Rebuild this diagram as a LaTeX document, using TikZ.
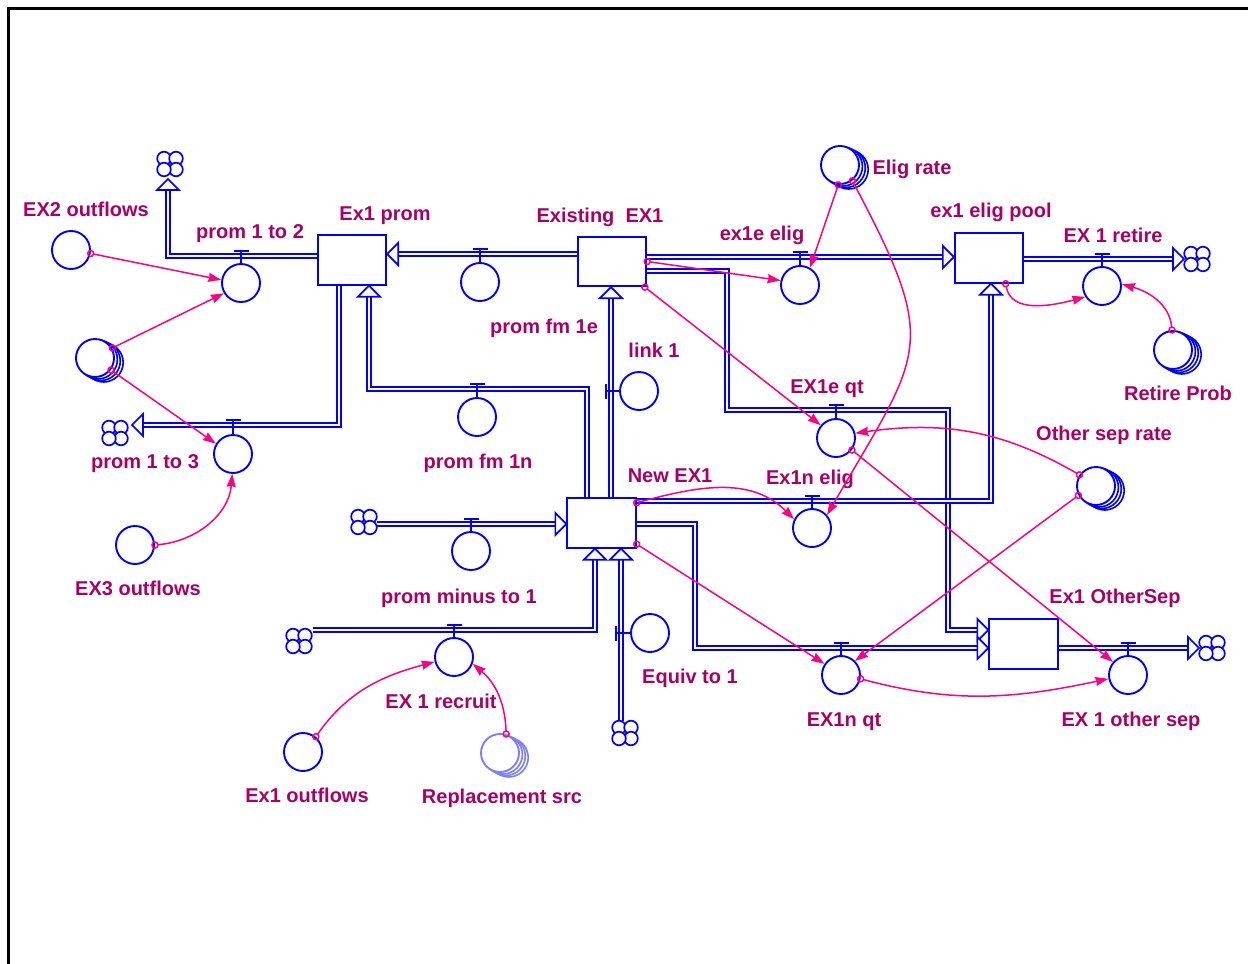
\documentclass[tikz,border=0pt]{standalone}
\usepackage{fontspec}
\setmainfont{Liberation Sans}
\usetikzlibrary{arrows.meta,calc}
\definecolor{vblue}{RGB}{0,0,255}
\definecolor{vlight}{RGB}{125,125,255}
\definecolor{vlabel}{RGB}{168,0,100}
\definecolor{vpink}{RGB}{255,0,128}
\tikzset{
  stock/.style={draw=vblue, line width=1.8pt, fill=white, rectangle, minimum width=68.5pt, minimum height=49.5pt, inner sep=0pt},
  flowc/.style={draw=vblue, line width=1.9pt, fill=white, circle, minimum size=38pt, inner sep=0pt},
  auxc/.style={draw=vblue, line width=1.9pt, fill=white, circle, minimum size=38pt, inner sep=0pt},
  pipe/.style={draw=vblue, line width=1.7pt, double=white, double distance=2pt},
  valveline/.style={draw=vblue, line width=1.8pt},
  conn/.style={draw=vpink, line width=1.5pt, arrows={Circle[open,length=7.5pt,width=7.5pt]-Stealth[length=13pt,width=9pt,inset=1pt]}, shorten <=-3.7pt},
  lbl/.style={text=vlabel, font=\bfseries\fontsize{20}{24}\selectfont, anchor=base, inner sep=0pt},
  tipU/.pic={\draw[vblue, line width=1.7pt, fill=white, line join=miter] (0,0) -- (-11,11) -- (11,11) -- cycle;},
  tipL/.pic={\draw[vblue, line width=1.7pt, fill=white, line join=miter] (0,0) -- (11,-11) -- (11,11) -- cycle;},
  tipR/.pic={\draw[vblue, line width=1.7pt, fill=white, line join=miter] (0,0) -- (-11,-11) -- (-11,11) -- cycle;},
  cloudp/.pic={\foreach \a/\b in {-6/-5.5, 6/-5.5, 6/5.5, -6/5.5}{\draw[vblue, line width=1.7pt, fill=white] (\a,\b) circle[radius=6.8];}},
}
\newcommand\stackaux[3]{%
  \foreach \k in {3,2,1}{\draw[draw=#3, line width=1.6pt, fill=white] ($(#2)+(2.9*\k,1.5*\k)$) circle[radius=19.5];}
  \node[auxc, draw=#3] (#1) at (#2) {};
}
\newcommand\valvetop[2]{\draw[valveline] (#1.north) -- (#1.north |- 0,#2) ++(-7.5,0) -- ++(15,0);}
\newcommand\valveleft[2]{\draw[valveline] (#1.west) -- (#1.west -| #2,0) ++(0,-7.5) -- ++(0,15);}
\begin{document}
\begin{tikzpicture}[x=1pt,y=-1pt]
\useasboundingbox (0,0) rectangle (1248,964);
\draw[line width=3pt] (8,964) -- (8,8.5) -- (1248,8.5);

% stocks
\node[stock] (ex1prom) at (352,260) {};
\node[stock] (existing) at (612,261.5) {};
\node[stock] (eligpool) at (989,258) {};
\node[stock] (newex1) at (601.5,523) {};
\node[stock] (othersep) at (1023.5,644) {};

% clouds
\coordinate (cl12) at (170,164);
\coordinate (cl13) at (115,433);
\coordinate (clret) at (1197,259);
\coordinate (clos) at (1212,648);
\coordinate (clpm) at (364,522);
\coordinate (clrec) at (299,641);
\coordinate (cleq) at (625,733);

% arrow tips of pipes
\coordinate (t12) at (168,179);
\coordinate (t2) at (ex1prom.east |- 0,254);
\coordinate (t3) at (ex1prom.south -| 369,0);
\coordinate (t13) at (132,425);
\coordinate (t5) at (existing.south -| 611,0);
\coordinate (t6) at (eligpool.west |- 0,257);
\coordinate (t7) at (othersep.west |- 0,630);
\coordinate (t8) at (1184,259);
\coordinate (t9) at (eligpool.south -| 991,0);
\coordinate (t10) at (othersep.west |- 0,648);
\coordinate (t11) at (1199,648);
\coordinate (tpm) at (newex1.west |- 0,524);
\coordinate (trec) at (newex1.south -| 595,0);
\coordinate (teq) at (newex1.south -| 621,0);

% pipes
\draw[pipe] (ex1prom.west |- 0,256) -| ($(t12)+(0,10)$);
\draw[pipe] (existing.west |- 0,254) -- ($(t2)+(10,0)$);
\draw[pipe] (newex1.north -| 587,0) |- (t3 |- 0,389) -- ($(t3)+(0,10)$);
\draw[pipe] (ex1prom.south -| 339,0) |- ($(t13)+(10,0)$);
\draw[pipe] (newex1.north -| 611,0) -- ($(t5)+(0,10)$);
\draw[pipe] (existing.east |- 0,257) -- ($(t6)+(-10,0)$);
\draw[pipe] (existing.east |- 0,271) -| (727,410) -| (948,630) -- ($(t7)+(-10,0)$);
\draw[pipe] (eligpool.east |- 0,259) -- ($(t8)+(-10,0)$);
\draw[pipe] (newex1.east |- 0,501) -| ($(t9)+(0,10)$);
\draw[pipe] (newex1.east |- 0,524) -| (695,648) -- ($(t10)+(-10,0)$);
\draw[pipe] (othersep.east |- 0,648) -- ($(t11)+(-10,0)$);
\draw[pipe] ($(clpm)+(13,2)$) -- ($(tpm)+(-10,0)$);
\draw[pipe] ($(clrec)+(14,-11)$) -| ($(trec)+(0,10)$);
\draw[pipe] ($(cleq)+(-4,-12)$) -- ($(teq)+(0,10)$);

\pic at (t12) {tipU};
\pic at (t2) {tipL};
\pic at (t3) {tipU};
\pic at (t13) {tipL};
\pic at (t5) {tipU};
\pic at (t6) {tipR};
\pic at (t7) {tipR};
\pic at (t8) {tipR};
\pic at (t9) {tipU};
\pic at (t10) {tipR};
\pic at (t11) {tipR};
\pic at (tpm) {tipR};
\pic at (trec) {tipU};
\pic at (teq) {tipU};

\pic at (cl12) {cloudp};
\pic at (cl13) {cloudp};
\pic at (clret) {cloudp};
\pic at (clos) {cloudp};
\pic at (clpm) {cloudp};
\pic at (clrec) {cloudp};
\pic at (cleq) {cloudp};

% flow valves
\node[flowc] (f12) at (241,283) {};
\node[flowc] (fpfm1e) at (480,282) {};
\node[flowc] (fpfm1n) at (477,417) {};
\node[flowc] (f13) at (233,454) {};
\node[flowc] (flink) at (639,391) {};
\node[flowc] (fex1e) at (800,285) {};
\node[flowc] (fex1eqt) at (836,438) {};
\node[flowc] (fret) at (1102,286) {};
\node[flowc] (fex1nelig) at (812,528) {};
\node[flowc] (fex1nqt) at (841,675) {};
\node[flowc] (fos) at (1128,675) {};
\node[flowc] (fpm) at (471,551) {};
\node[flowc] (frec) at (454,657) {};
\node[flowc] (feq) at (650,633) {};
\valvetop{f12}{251}
\valvetop{fpfm1e}{249}
\valvetop{fpfm1n}{384}
\valvetop{f13}{420}
\valvetop{fex1e}{252}
\valvetop{fex1eqt}{405}
\valvetop{fret}{254}
\valvetop{fex1nelig}{496}
\valvetop{fex1nqt}{643}
\valvetop{fos}{643}
\valvetop{fpm}{519}
\valvetop{frec}{625}
\valveleft{flink}{606}
\valveleft{feq}{616}

% auxiliaries
\node[auxc] (ex2out) at (71,250) {};
\node[auxc] (ex3out) at (135,545) {};
\node[auxc] (ex1out) at (303,752) {};
\stackaux{stk}{95,358}{vblue}
\stackaux{eligrate}{840,165}{vblue}
\stackaux{retireprob}{1173,350}{vblue}
\stackaux{othsep}{1096,486}{vblue}
\stackaux{replsrc}{500,753}{vlight}

% labels
\node[lbl] (l1) at (86,216) {EX2 outflows};
\node[lbl] (l2) at (250,238) {prom 1 to 2};
\node[lbl] (l3) at (385,220) {Ex1 prom};
\node[lbl] (l4) at (600,222) {Existing\ \ EX1};
\node[lbl] (l5) at (762,240) {ex1e elig};
\node[lbl] (l6) at (912,174) {Elig rate};
\node[lbl] (l7) at (991,217) {ex1 elig pool};
\node[lbl] (l8) at (1113,242) {EX 1 retire};
\node[lbl] (l9) at (544,333) {prom fm 1e};
\node[lbl] (l10) at (654,357) {link 1};
\node[lbl] (l11) at (827,393) {EX1e qt};
\node[lbl] (l12) at (1178,400) {Retire Prob};
\node[lbl] (l13) at (1104,440) {Other sep rate};
\node[lbl] (l14) at (478,468) {prom fm 1n};
\node[lbl] (l15) at (145,468) {prom 1 to 3};
\node[lbl] (l16) at (670,482) {New EX1};
\node[lbl] (l17) at (810,484) {Ex1n elig};
\node[lbl] (l18) at (138,595) {EX3 outflows};
\node[lbl] (l19) at (459,603) {prom minus to 1};
\node[lbl] (l20) at (1115,603) {Ex1 OtherSep};
\node[lbl] (l21) at (690,683) {Equiv to 1};
\node[lbl] (l22) at (441,708) {EX 1 recruit};
\node[lbl] (l23) at (844,726) {EX1n qt};
\node[lbl] (l24) at (1131,726) {EX 1 other sep};
\node[lbl] (l25) at (307,802) {Ex1 outflows};
\node[lbl] (l26) at (502,803) {Replacement src};

% connectors
\draw[conn] (ex2out.-10) -- (f12.171);
\draw[conn] (stk.30) -- (f12.211);
\draw[conn] (stk.-37) -- (f13.149);
\draw[conn] (ex3out.0) to[out=5,in=-95] (f13.-92);
\draw[conn] (existing.east) -- (fex1e.167);
\draw[conn] (existing.-38) -- (fex1eqt.140);
\draw[conn] (eligrate.-95) -- (fex1e.60);
\draw[conn] (eligrate.-52) to[out=-62,in=60,looseness=1.45] (fex1nelig.41);
\draw[conn] (eligpool.-57) to[out=-80,in=195] (fret.213);
\draw[conn] (retireprob.93) to[out=95,in=-15] (fret.5);
\draw[conn] (othsep.146) to[out=150,in=8] (fex1eqt.14);
\draw[conn] (fex1eqt.-37) -- (fos.139);
\draw[conn] (othsep.208) -- (fex1nqt.45);
\draw[conn] (newex1.30) to[out=15,in=135] (fex1nelig.154);
\draw[conn] (newex1.-31) -- (fex1nqt.146);
\draw[conn] (fex1nqt.-11) to[out=-15,in=-168] (fos.191);
\draw[conn] (ex1out.50) to[out=55,in=195] (frec.194);
\draw[conn] (replsrc.72) to[out=92,in=-40] (frec.-20);
\end{tikzpicture}
\end{document}
